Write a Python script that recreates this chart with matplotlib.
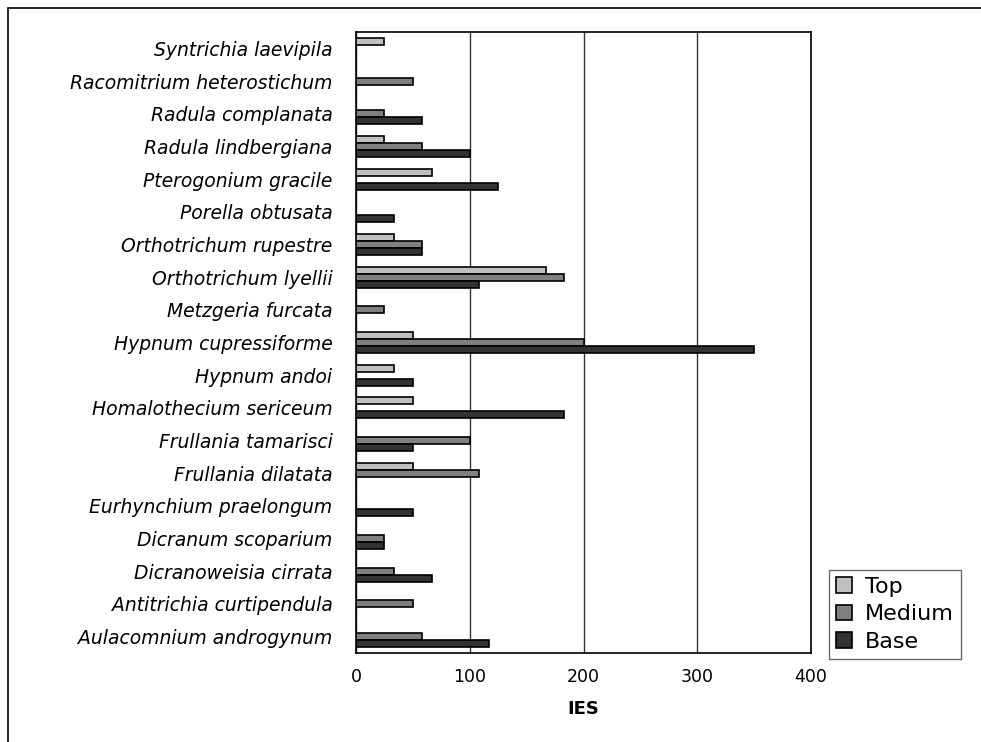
import numpy as np
import matplotlib.pyplot as plt
from matplotlib.patches import Rectangle

# species, listed bottom to top as they appear on the y axis
species = ['Aulacomnium androgynum', 'Antitrichia curtipendula', 'Dicranoweisia cirrata',
           'Dicranum scoparium', 'Eurhynchium praelongum', 'Frullania dilatata',
           'Frullania tamarisci', 'Homalothecium sericeum', 'Hypnum andoi',
           'Hypnum cupressiforme', 'Metzgeria furcata', 'Orthotrichum lyellii',
           'Orthotrichum rupestre', 'Porella obtusata', 'Pterogonium gracile',
           'Radula lindbergiana', 'Radula complanata', 'Racomitrium heterostichum',
           'Syntrichia laevipila']

top = [0, 0, 0, 0, 0, 50, 0, 50, 33, 50, 0, 167, 33, 0, 67, 25, 0, 0, 25]
medium = [58, 50, 33, 25, 0, 108, 100, 0, 0, 200, 25, 183, 58, 0, 0, 58, 25, 50, 0]
base = [117, 0, 67, 25, 50, 0, 50, 183, 50, 350, 0, 108, 58, 33, 125, 100, 58, 0, 0]

plt.rcParams['font.family'] = ['DejaVu Sans']

fig = plt.figure(figsize=(9.81, 7.42), dpi=100)
ax = fig.add_axes([356 / 981, 1 - 653 / 742, 455 / 981, 621 / 742])

# outer chart border
fig.patches.append(Rectangle((8 / 981, -0.01), 1.0, 1 - 8 / 742 + 0.01,
                             transform=fig.transFigure, fill=False,
                             edgecolor='black', linewidth=1.2))

y = np.arange(len(species))
h = 0.215
ax.barh(y + h, top, height=h, color='#c0c0c0', edgecolor='black', linewidth=1.2, label='Top', zorder=3)
ax.barh(y, medium, height=h, color='#808080', edgecolor='black', linewidth=1.2, label='Medium', zorder=3)
ax.barh(y - h, base, height=h, color='#333333', edgecolor='black', linewidth=1.2, label='Base', zorder=3)

ax.set_xlim(0, 400)
ax.set_ylim(-0.5, len(species) - 0.5)
ax.set_xticks([0, 100, 200, 300, 400])
ax.set_yticks(y)
ax.set_yticklabels(species, fontstyle='italic', fontsize=13.5)
ax.tick_params(axis='x', labelsize=12.5, length=0, pad=11)
ax.tick_params(axis='y', length=0, pad=17)
ax.xaxis.grid(True, color='#333333', linewidth=1, zorder=0)
for s in ax.spines.values():
    s.set_color('black')
    s.set_linewidth(1.2)
ax.set_xlabel('IES', fontsize=13, fontweight='bold', labelpad=10)

ax.legend(loc='lower left', bbox_to_anchor=(829 / 981, 1 - 659 / 742), bbox_transform=fig.transFigure,
          fontsize=16, frameon=True, fancybox=False, edgecolor='#444444',
          handlelength=0.7, handleheight=0.7, handletextpad=0.6, labelspacing=0.34,
          borderpad=0.32, borderaxespad=0)

fig.savefig('out.png', dpi=100)
